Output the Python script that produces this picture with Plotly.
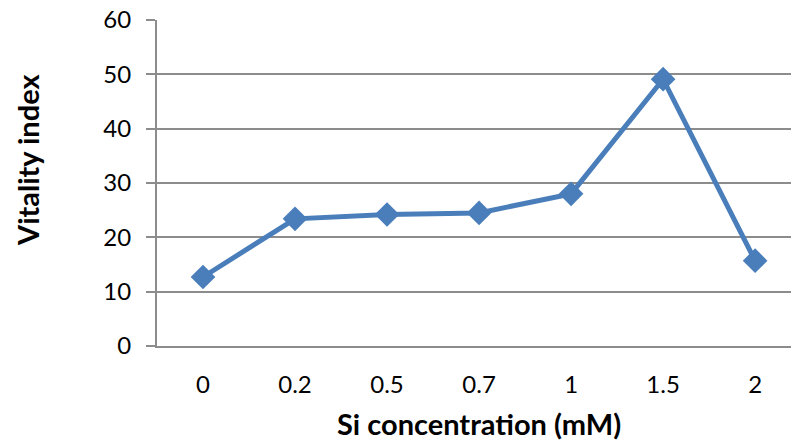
import plotly.graph_objects as go

categories = ["0", "0.2", "0.5", "0.7", "1", "1.5", "2"]
vitality = [12.7, 23.4, 24.2, 24.5, 28.0, 49.1, 15.7]
y_ticks = [0, 10, 20, 30, 40, 50, 60]

W, H = 791, 444
L, R, T, B = 157, 0, 20, 98

fig = go.Figure()
fig.add_trace(go.Scatter(
    x=list(range(len(categories))), y=vitality, mode="lines+markers",
    line=dict(color="#4A7EBB", width=5),
    marker=dict(symbol="diamond", size=19, color="#4A7EBB"),
    showlegend=False, cliponaxis=False,
))

fig.update_layout(
    width=W, height=H,
    margin=dict(l=L, r=R, t=T, b=B),
    paper_bgcolor="white", plot_bgcolor="white",
    font=dict(family="Lato, Open Sans, sans-serif", size=24, color="black"),
    xaxis=dict(
        tickmode="array", tickvals=list(range(len(categories))), ticktext=categories,
        range=[-0.5, 6.39], showgrid=False, zeroline=False,
        showline=True, linecolor="#8c8c8c", linewidth=2,
        ticks="", ticklabelstandoff=16,
        tickfont=dict(size=24),
    ),
    yaxis=dict(
        range=[0, 60], tickvals=y_ticks, showgrid=True, gridcolor="#8c8c8c", gridwidth=2,
        zeroline=False, showline=True, linecolor="#8c8c8c", linewidth=2,
        ticks="outside", ticklen=9, tickcolor="#8c8c8c", tickwidth=2,
        ticklabelstandoff=10, tickfont=dict(size=24),
    ),
    annotations=[
        dict(text="<b>Si concentration (mM)</b>", xref="paper", yref="paper",
             x=(479 - L) / (W - L - R), y=(H - B - 423) / (H - T - B),
             showarrow=False, font=dict(size=29), xanchor="center", yanchor="middle"),
        dict(text="<b>Vitality index</b>", xref="paper", yref="paper",
             x=(27 - L) / (W - L - R), y=(H - B - 160) / (H - T - B),
             showarrow=False, textangle=-90, font=dict(size=29), xanchor="center", yanchor="middle"),
    ],
)

fig.write_html("out.html")
